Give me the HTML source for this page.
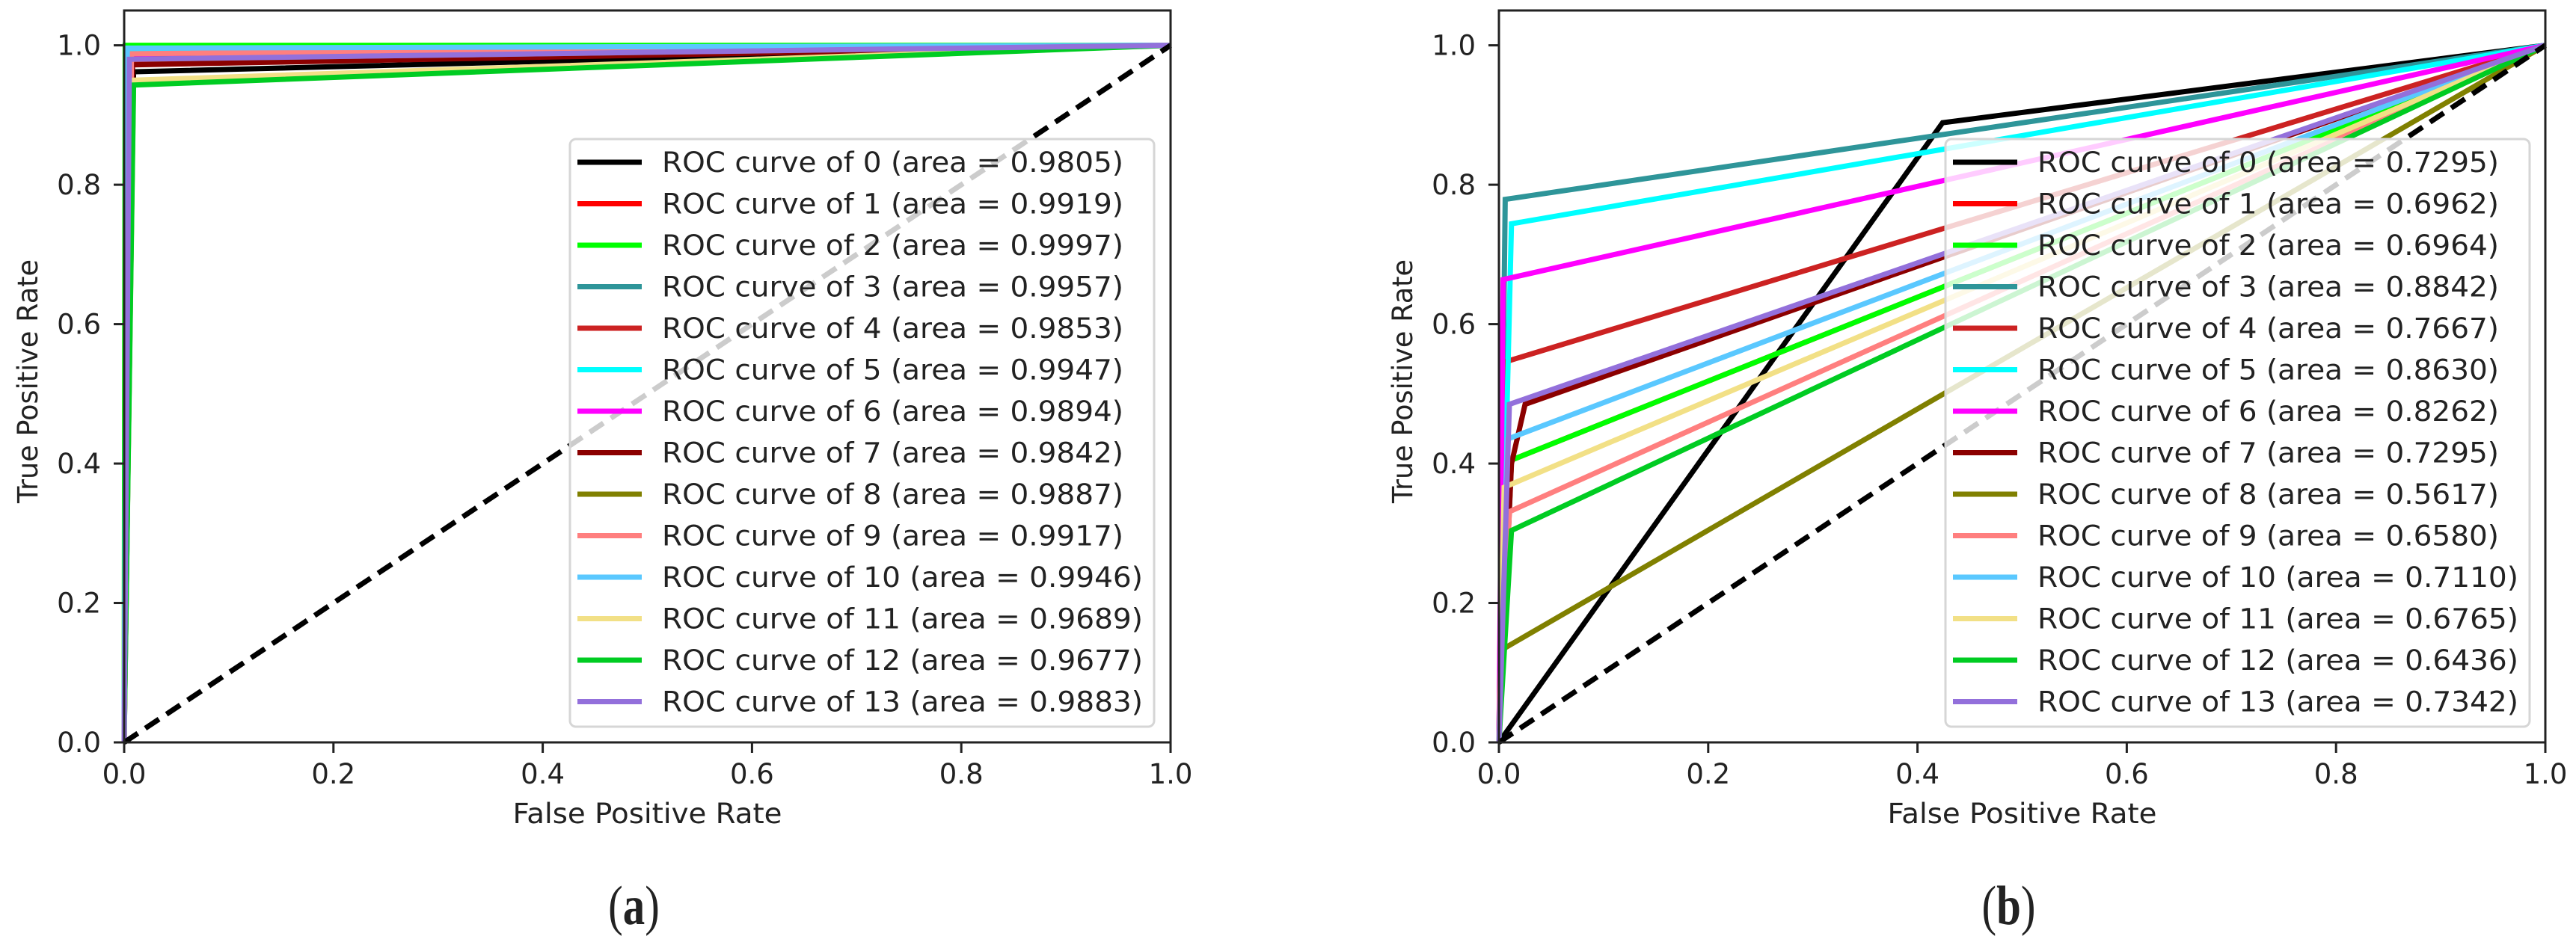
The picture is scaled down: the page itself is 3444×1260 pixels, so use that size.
<!DOCTYPE html>
<html><head><meta charset="utf-8"><style>
html,body{margin:0;padding:0;background:#fff;}
svg{display:block;}
text{font-family:"DejaVu Sans","Liberation Sans",sans-serif;fill:#222;}
</style></head><body>
<svg id="fig" width="3444" height="1260" viewBox="0 0 3444 1260" xmlns="http://www.w3.org/2000/svg"></svg>
<script>
const classNames = ["0","1","2","3","4","5","6","7","8","9","10","11","12","13"];
const colors = ["#000000","#ff0000","#00ff00","#2e9599","#cc2222","#00ffff","#ff00ff","#8b0000","#808000","#ff7f7f","#5ac8ff","#f2e086","#00cc22","#9370db"];
const areasA = ["0.9805","0.9919","0.9997","0.9957","0.9853","0.9947","0.9894","0.9842","0.9887","0.9917","0.9946","0.9689","0.9677","0.9883"];
const areasB = ["0.7295","0.6962","0.6964","0.8842","0.7667","0.8630","0.8262","0.7295","0.5617","0.6580","0.7110","0.6765","0.6436","0.7342"];
// ROC points per class (fpr, tpr), panel (a)
const fprA = [[0,0.009,1],[0,0.006,1],[0,0.001,1],[0,0.004,1],[0,0.007,1],[0,0.003,1],[0,0.005,1],[0,0.008,1],[0,0.006,1],[0,0.007,1],[0,0.003,1],[0,0.009,1],[0,0.009,1],[0,0.005,1]];
const tprA = [[0,0.962,1],[0,0.985,1],[0,1.0,1],[0,0.993,1],[0,0.975,1],[0,0.995,1],[0,0.985,1],[0,0.972,1],[0,0.98,1],[0,0.988,1],[0,0.996,1],[0,0.95,1],[0,0.943,1],[0,0.98,1]];
// panel (b)
const fprB = [[0,0.424,1],[0,0.012,1],[0,0.012,1],[0,0.006,1],[0,0.004,1],[0,0.012,1],[0,0.004,1],[0,0.012,0.025,1],[0,0.004,1],[0,0.01,1],[0,0.008,1],[0,0.005,1],[0,0.012,1],[0,0.01,1]];
const tprB = [[0,0.889,1],[0,0.405,1],[0,0.405,1],[0,0.779,1],[0,0.545,1],[0,0.744,1],[0,0.664,1],[0,0.40,0.485,1],[0,0.134,1],[0,0.331,1],[0,0.435,1],[0,0.366,1],[0,0.304,1],[0,0.485,1]];
const xTicks = [0,0.2,0.4,0.6,0.8,1.0];
const yTicks = [0,0.2,0.4,0.6,0.8,1.0];
const tickLabels = ["0.0","0.2","0.4","0.6","0.8","1.0"];

const NS="http://www.w3.org/2000/svg";
const svg=document.getElementById('fig');
function mk(tag,attrs,parent){const e=document.createElementNS(NS,tag);for(const k in attrs)e.setAttribute(k,attrs[k]);(parent||svg).appendChild(e);return e;}

function panel(x0,tag,fpr,tpr,areas,subLabel,legendX){
  const x1=x0+1399, yTop=14, yBot=993;
  const sx=v=>x0+v*(x1-x0);
  const sy=v=>yBot-v*(yBot-yTop)/1.05;
  const g=mk('g',{});
  
  
  for(let i=0;i<fpr.length;i++){
    const pts=fpr[i].map((f,j)=>sx(f)+','+sy(tpr[i][j])).join(' ');
    const pl=mk('polyline',{points:pts,fill:'none',stroke:colors[i],'stroke-width':7,'stroke-linejoin':'miter'},g);
    
    
  }
  const d=mk('line',{x1:sx(0),y1:sy(0),x2:sx(1),y2:sy(1),stroke:'#000','stroke-width':7,'stroke-dasharray':'22,12'},g);
  
  
  const fr=mk('rect',{x:x0,y:yTop,width:x1-x0,height:yBot-yTop,fill:'none',stroke:'#222','stroke-width':3},g);
  
  
  xTicks.forEach((t,i)=>{
    mk('line',{x1:sx(t),y1:yBot,x2:sx(t),y2:yBot+14,stroke:'#222','stroke-width':3},g);
    const tx=mk('text',{x:sx(t),y:1048,'font-size':37,'text-anchor':'middle'},g);
    tx.textContent=tickLabels[i];
    
    
  });
  yTicks.forEach((t,i)=>{
    mk('line',{x1:x0-14,y1:sy(t),x2:x0,y2:sy(t),stroke:'#222','stroke-width':3},g);
    const tx=mk('text',{x:x0-31,y:sy(t)+13,'font-size':37,'text-anchor':'end'},g);
    tx.textContent=tickLabels[i];
    
    
  });
  const xl=mk('text',{x:(x0+x1)/2,y:1101,'font-size':37,'text-anchor':'middle',textLength:360,lengthAdjust:'spacingAndGlyphs'},g);
  xl.textContent='False Positive Rate';
  
  
  const yl=mk('text',{x:0,y:0,'font-size':37,'text-anchor':'middle',textLength:326,lengthAdjust:'spacingAndGlyphs',transform:'translate('+(x0-116)+',510) rotate(-90)'},g);
  yl.textContent='True Positive Rate';
  
  
  const lg=mk('g',{},g);
  
  
  mk('rect',{x:legendX,y:186,width:781,height:786,rx:8,fill:'#fff','fill-opacity':0.8,stroke:'#d6d6d6','stroke-width':3},lg);
  for(let i=0;i<classNames.length;i++){
    const y=217+i*55.5;
    const e=mk('g',{},lg);
    
    
    mk('line',{x1:legendX+10,y1:y,x2:legendX+96,y2:y,stroke:colors[i],'stroke-width':7},e);
    const label='ROC curve of '+classNames[i]+' (area = '+areas[i]+')';
    const t=mk('text',{x:legendX+123,y:y+13,'font-size':37,textLength:(classNames[i].length>1?643:617),lengthAdjust:'spacingAndGlyphs'},e);
    t.textContent=label;
  }
  const sl=mk('text',{x:0,y:0,'font-size':62,'text-anchor':'middle',style:'font-family:"Liberation Serif",serif',transform:'translate('+((x0+x1)/2-18)+',1236) scale(0.95,1.2)'},g);
  sl.innerHTML='(<tspan font-weight="bold">'+subLabel+'</tspan>)';
  
  
}
panel(166,'a',fprA,tprA,areasA,'a',762);
panel(2004,'b',fprB,tprB,areasB,'b',2601);
</script>
</body></html>
